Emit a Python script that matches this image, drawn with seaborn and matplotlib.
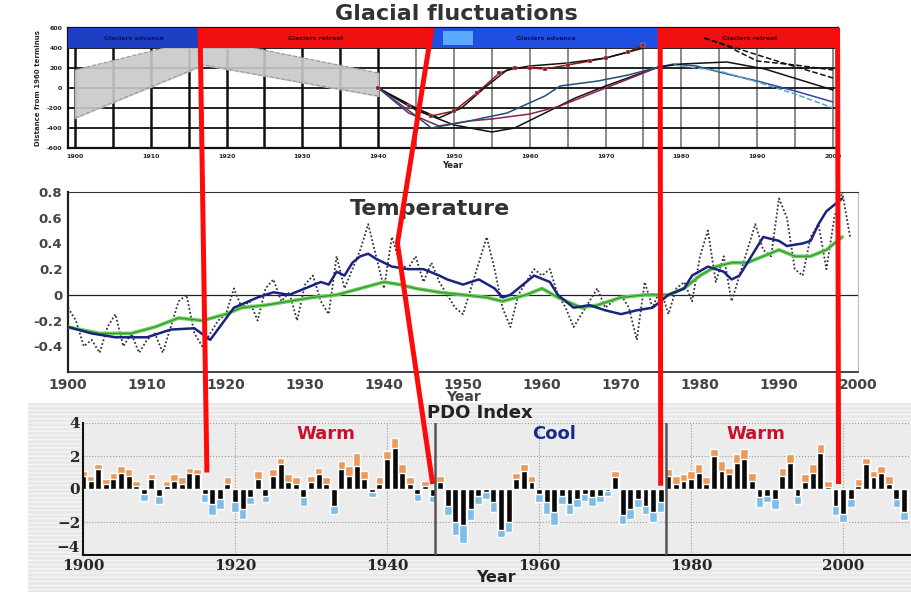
import numpy as np
import pandas as pd
import matplotlib
matplotlib.use("Agg")
import matplotlib.pyplot as plt
import seaborn as sns
from matplotlib.patches import Rectangle
from matplotlib.lines import Line2D

sns.set_style("white")
plt.rcParams['font.family'] = ['DejaVu Sans']

# ---------------- data : glacier panel ----------------
band_years = [1900, 1917, 1940]
band_low = [-300, 230, -80]
band_high = [180, 500, 150]

header_start = [1899.0, 1916.5, 1947.1, 1977.2]
header_end = [1916.5, 1947.1, 1977.2, 2000.7]
header_text = ["Glaciers advance", "Glaciers retreat", "Glaciers advance", "Glaciers retreat"]
header_color = ["#1d3fc4", "#f01010", "#1f4fe0", "#f01010"]

g1_years = [1940, 1944, 1947, 1950, 1953, 1956, 1958, 1960, 1962, 1965, 1968, 1970, 1973, 1975]
g1_vals = [0, -180, -280, -230, -50, 150, 200, 200, 190, 230, 270, 300, 360, 430]
g2_years = [1940, 1945, 1948, 1951, 1954, 1957, 1960, 1965, 1970, 1975]
g2_vals = [0, -200, -300, -200, 0, 180, 220, 250, 300, 400]
g3_years = [1940, 1945, 1950, 1955, 1958, 1962, 1966, 1970, 1974, 1977]
g3_vals = [0, -220, -370, -440, -400, -250, -100, 20, 130, 210]
g4_years = [1940, 1944, 1948, 1952, 1955, 1960, 1964, 1968, 1972, 1977]
g4_vals = [0, -250, -380, -330, -310, -260, -180, -60, 60, 210]
g5_years = [1940, 1945, 1947, 1952, 1957, 1962, 1964, 1969, 1973, 1977]
g5_vals = [0, -280, -400, -330, -250, -80, 20, 70, 130, 210]
g6_years = [1977, 1979, 1982, 1986, 1990, 1995, 2000]
g6_vals = [210, 240, 220, 140, 70, -30, -140]
g7_years = [1977, 1980, 1986, 1991, 2000]
g7_vals = [210, 240, 260, 190, -20]
g8_years = [1983, 1986, 1990, 1995, 2000]
g8_vals = [500, 420, 270, 230, 180]
g9_years = [1983, 1988, 1993, 2000]
g9_vals = [500, 380, 260, 100]
g10_years = [1979, 1985, 1990, 1995, 2000]
g10_vals = [230, 170, 60, -60, -200]

# ---------------- data : temperature panel ----------------
t_years = list(range(1900, 2000))
t_annual = [-0.10, -0.20, -0.40, -0.35, -0.45, -0.25, -0.15, -0.40, -0.30, -0.45,
            -0.35, -0.30, -0.45, -0.25, -0.05, 0.00, -0.30, -0.40, -0.30, -0.20,
            -0.15, 0.05, -0.10, -0.05, -0.20, 0.05, 0.12, -0.05, 0.02, -0.20,
            0.08, 0.15, -0.05, -0.15, 0.30, 0.05, 0.20, 0.35, 0.55, 0.30,
            0.05, 0.45, 0.25, 0.20, 0.30, 0.10, 0.25, 0.10, 0.00, -0.10,
            -0.15, 0.05, 0.25, 0.45, 0.20, -0.10, -0.25, 0.00, 0.10, 0.20,
            0.15, 0.20, 0.00, -0.10, -0.25, -0.15, -0.05, 0.05, -0.10, -0.05,
            0.00, -0.10, -0.35, 0.10, -0.10, 0.05, -0.15, 0.05, 0.10, -0.05,
            0.30, 0.50, 0.10, 0.30, -0.05, 0.15, 0.35, 0.55, 0.35, 0.30,
            0.75, 0.60, 0.20, 0.15, 0.45, 0.55, 0.20, 0.60, 0.80, 0.45]
blue_years = [1900, 1903, 1906, 1910, 1913, 1916, 1918, 1921, 1924, 1926, 1928, 1930,
              1932, 1933, 1934, 1935, 1936, 1937, 1938, 1939, 1941, 1943, 1945, 1947,
              1948, 1950, 1952, 1954, 1955, 1956, 1958, 1959, 1961, 1962, 1964, 1966,
              1968, 1970, 1972, 1974, 1975, 1976, 1978, 1979, 1981, 1983, 1984, 1985,
              1986, 1987, 1988, 1990, 1991, 1993, 1994, 1995, 1996, 1998]
blue_vals = [-0.25, -0.30, -0.33, -0.33, -0.27, -0.26, -0.35, -0.10, -0.02, 0.02, 0.00, 0.05,
             0.10, 0.08, 0.18, 0.15, 0.25, 0.30, 0.32, 0.28, 0.22, 0.20, 0.20, 0.15,
             0.12, 0.08, 0.12, 0.05, -0.02, 0.00, 0.10, 0.15, 0.10, 0.00, -0.10, -0.08,
             -0.12, -0.15, -0.12, -0.10, -0.05, 0.00, 0.05, 0.15, 0.22, 0.18, 0.12, 0.15,
             0.25, 0.35, 0.45, 0.42, 0.38, 0.40, 0.42, 0.55, 0.65, 0.75]
green_years = [1900, 1904, 1908, 1911, 1914, 1917, 1920, 1922, 1925, 1928, 1931, 1934,
               1937, 1940, 1942, 1944, 1947, 1950, 1953, 1955, 1958, 1960, 1962, 1965,
               1967, 1970, 1973, 1976, 1978, 1980, 1982, 1984, 1986, 1988, 1990, 1992,
               1994, 1996, 1998]
green_vals = [-0.25, -0.30, -0.30, -0.25, -0.18, -0.20, -0.15, -0.10, -0.08, -0.05, -0.02, 0.00,
              0.05, 0.10, 0.08, 0.05, 0.02, 0.00, -0.02, -0.05, 0.00, 0.05, -0.02, -0.10,
              -0.08, -0.02, 0.00, 0.00, 0.05, 0.15, 0.22, 0.25, 0.25, 0.30, 0.35, 0.30,
              0.30, 0.35, 0.45]

# ---------------- data : PDO panel ----------------
pdo_years = list(range(1900, 2009))
pdo_black = [0.8, 0.5, 1.2, 0.3, 0.6, 1.0, 0.8, 0.2, -0.3, 0.6,
             -0.4, 0.2, 0.5, 0.3, 1.0, 0.9, -0.3, -0.9, -0.6, 0.3,
             -0.8, -1.2, -0.5, 0.6, -0.4, 0.8, 1.5, 0.4, 0.3, -0.5,
             0.4, 0.9, 0.3, -1.0, 1.2, 0.8, 1.4, 0.6, -0.2, 0.3,
             1.8, 2.5, 1.0, 0.3, -0.3, 0.2, -0.4, 0.4, -1.0, -2.0,
             -2.2, -1.2, -0.4, -0.2, -0.8, -2.5, -2.0, 0.6, 1.1, 0.4,
             -0.3, -0.8, -1.4, -0.4, -0.9, -0.6, -0.3, -0.5, -0.4, -0.1,
             0.7, -1.6, -1.2, -0.6, -1.0, -1.4, -0.8, 0.8, 0.3, 0.5,
             0.6, 1.0, 0.3, 2.0, 1.1, 0.9, 1.6, 1.8, 0.5, -0.5,
             -0.4, -0.6, 0.8, 1.6, -0.4, 0.4, 1.0, 2.2, 0.1, -1.0,
             -1.5, -0.6, 0.2, 1.5, 0.7, 1.0, 0.3, -0.6, -1.4]
pdo_tips = [1.1, 0.8, 1.5, 0.6, 1.0, 1.4, 1.2, 0.5, -0.7, 0.9,
            -0.9, 0.5, 0.9, 0.7, 1.3, 1.2, -0.8, -1.6, -1.2, 0.7,
            -1.4, -1.8, -0.9, 1.1, -0.8, 1.2, 1.9, 0.9, 0.7, -1.0,
            0.8, 1.3, 0.7, -1.5, 1.7, 1.4, 2.2, 1.1, -0.5, 0.7,
            2.3, 3.1, 1.5, 0.7, -0.7, 0.5, -0.8, 0.8, -1.6, -2.8,
            -3.3, -1.9, -0.9, -0.6, -1.4, -2.9, -2.6, 1.0, 1.5, 0.8,
            -0.8, -1.5, -2.2, -0.9, -1.5, -1.1, -0.7, -1.0, -0.8, -0.4,
            1.1, -2.1, -1.8, -1.1, -1.5, -2.0, -1.4, 1.2, 0.8, 0.9,
            1.1, 1.5, 0.7, 2.4, 1.7, 1.3, 2.1, 2.4, 1.0, -1.1,
            -0.8, -1.2, 1.3, 2.1, -0.9, 0.9, 1.5, 2.7, 0.5, -1.6,
            -2.0, -1.1, 0.6, 1.9, 1.1, 1.4, 0.8, -1.1, -1.9]
pdo_phase_lines = [1946.3, 1976.7]
phase_labels = ["Warm", "Cool", "Warm"]
phase_x = [1932, 1962, 1988.5]
phase_colors = ["#c8102e", "#1a2a8a", "#c8102e"]

# red connectors: (panel, year, value)
red_lines = [
    [("top", 1916.5, 600), ("pdo", 1916.3, 1.0)],
    [("top", 1947.1, 600), ("mid", 1941.7, 0.40), ("pdo", 1946.0, 0.3)],
    [("top", 1977.2, 600), ("pdo", 1976.0, 0.2)],
    [("top", 2000.6, 600), ("pdo", 1999.4, 0.3)],
]

W, H = 912, 592
fig = plt.figure(figsize=(W / 100, H / 100), dpi=100)


def px_axes(x0, y0, x1, y1, **kw):
    return fig.add_axes([x0 / W, 1 - y1 / H, (x1 - x0) / W, (y1 - y0) / H], **kw)


# striped gray background of the PDO figure
bg = Rectangle((28 / W, 0), (W - 28) / W, 1 - 403 / H, transform=fig.transFigure,
               facecolor="#e8e8e8", edgecolor="#f6f6f6", hatch="----", lw=0, zorder=-5)
fig.patches.append(bg)

# ================= glacier panel =================
ax1 = px_axes(68, 28, 838, 148)
ax1.set_xlim(1899.08, 2000.66)
ax1.set_ylim(-600, 600)
for yr in range(1900, 2001, 5):
    ax1.axvline(yr, color="#111" if yr <= 1940 else "#777", lw=1.8 if yr <= 1940 else 1.2, zorder=1)
for v in [-400, -200, 0, 200, 400]:
    ax1.axhline(v, color="#111", lw=1.3, zorder=1)
ax1.fill_between(band_years, band_low, band_high, color="#c9c9c9", alpha=0.9, zorder=2)
sns.lineplot(x=band_years, y=band_low, ax=ax1, color="#999", lw=0.8, ls="--", zorder=2)
sns.lineplot(x=band_years, y=band_high, ax=ax1, color="#999", lw=0.8, ls="--", zorder=2)
for s, e, txt, c in zip(header_start, header_end, header_text, header_color):
    ax1.add_patch(Rectangle((s, 400), e - s, 200, facecolor=c, edgecolor="none", zorder=3))
    ax1.text((s + e) / 2, 500, txt, ha="center", va="center", fontsize=4.5, fontweight="bold",
             color="#3a0000" if c == "#f01010" else "#08164f", zorder=4)
ax1.add_patch(Rectangle((1948.5, 430), 4, 140, facecolor="#5aa9ff", edgecolor="none", zorder=3))
glac = [(g1_years, g1_vals, "#8b1a1a", "-"), (g2_years, g2_vals, "#111", "-"),
        (g3_years, g3_vals, "#111", "-"), (g4_years, g4_vals, "#8b2252", "-"),
        (g5_years, g5_vals, "#1f4e79", "-"), (g6_years, g6_vals, "#3344aa", "-"),
        (g7_years, g7_vals, "#111", "-"), (g8_years, g8_vals, "#111", "--"),
        (g9_years, g9_vals, "#111", "--"), (g10_years, g10_vals, "#55aaaa", "--")]
for xs, ys, c, ls in glac:
    sns.lineplot(x=xs, y=ys, ax=ax1, color=c, lw=1.1, ls=ls, zorder=5)
sns.scatterplot(x=g1_years, y=g1_vals, ax=ax1, marker="s", s=8, color="#8b1a1a", zorder=6)
ax1.set_xticks(range(1900, 2001, 10))
ax1.set_xticklabels([str(y) for y in range(1900, 2001, 10)], fontsize=4.5, fontweight="bold")
ax1.set_yticks(range(-600, 601, 200))
ax1.set_yticklabels([str(v) for v in range(-600, 601, 200)], fontsize=4.5, fontweight="bold")
ax1.tick_params(length=2, pad=2)
ax1.set_ylabel("Distance from 1960 terminus", fontsize=5, fontweight="bold", labelpad=4)
ax1.set_xlabel("Year", fontsize=6, fontweight="bold", labelpad=2)
for sp in ax1.spines.values():
    sp.set_color("#111")
    sp.set_linewidth(1.6)
fig.text(456 / W, 1 - 14 / H, "Glacial fluctuations", ha="center", va="center",
         fontsize=16, fontweight="bold", color="#333")

# ================= temperature panel =================
ax2 = px_axes(68, 192, 858, 372)
ax2.set_xlim(1900, 2000)
ax2.set_ylim(-0.6, 0.8)
ax2.axhline(0, color="#222", lw=0.9, zorder=1)
sns.lineplot(x=t_years, y=t_annual, ax=ax2, color="#333", lw=1.3, ls=(0, (1, 1.2)), zorder=2)
sns.lineplot(x=green_years, y=green_vals, ax=ax2, color="#66cc55", lw=2.6, zorder=3)
sns.lineplot(x=green_years, y=green_vals, ax=ax2, color="#2f8f2f", lw=0.7, zorder=3)
sns.lineplot(x=blue_years, y=blue_vals, ax=ax2, color="#1a2380", lw=1.8, zorder=4)
ax2.set_xticks(range(1900, 2001, 10))
ax2.set_xticks(range(1900, 2001, 2), minor=True)
ax2.set_xticklabels([str(y) for y in range(1900, 2001, 10)], fontsize=10, fontweight="bold", color="#444")
ax2.set_yticks([-0.4, -0.2, 0, 0.2, 0.4, 0.6, 0.8])
ax2.set_yticks(np.arange(-0.6, 0.81, 0.1), minor=True)
ax2.set_yticklabels(["-0.4", "-0.2", "0", "0.2", "0.4", "0.6", "0.8"], fontsize=9.5,
                    fontweight="bold", color="#444")
ax2.tick_params(axis="both", which="both", direction="in", length=6, width=1, pad=4)
ax2.tick_params(axis="x", which="minor", length=3)
ax2.tick_params(axis="y", which="minor", length=7)
ax2.set_xlabel("Year", fontsize=10, fontweight="bold", color="#444", labelpad=-1)
ax2.spines["left"].set_color("#222")
ax2.spines["bottom"].set_color("#222")
ax2.spines["left"].set_linewidth(1.6)
ax2.spines["bottom"].set_linewidth(1.2)
ax2.spines["top"].set_color("#333")
ax2.spines["right"].set_color("#bbb")
ax2.text(1945.8, 0.67, "Temperature", ha="center", va="center", fontsize=16,
         fontweight="bold", color="#333", zorder=6)

# ================= PDO panel =================
ax3 = px_axes(83, 423, 910, 555)
ax3.set_facecolor("#ececec")
ax3.set_xlim(1900, 2008.8)
ax3.set_ylim(-4, 4)
for yr in range(1920, 2001, 20):
    ax3.axvline(yr, color="#999", lw=0.8, ls=":", zorder=0)
for v in [-2, 2, 4]:
    ax3.axhline(v, color="#999", lw=0.8, ls=":", zorder=0)
tips = np.array(pdo_tips)
blk = np.array(pdo_black)
ax3.bar(pdo_years, tips, width=1.0, color=np.where(tips >= 0, "#ec9a5c", "#7dbde8"), zorder=1)
ax3.bar(pdo_years, blk, width=0.78, color="#0a0a0a", zorder=2)
for xl in pdo_phase_lines:
    ax3.axvline(xl, color="#555", lw=1.8, zorder=3)
for lab, xx, c in zip(phase_labels, phase_x, phase_colors):
    ax3.text(xx, 3.35, lab, ha="center", va="center", fontsize=13, fontweight="bold", color=c)
ax3.set_xticks(range(1900, 2001, 20))
ax3.set_xticklabels([str(y) for y in range(1900, 2001, 20)], fontsize=11, fontweight="bold",
                    family="DejaVu Serif")
ax3.set_yticks([-4, -2, 0, 2, 4])
ax3.set_yticklabels(["\u22124", "\u22122", "0", "2", "4"], fontsize=11, fontweight="bold",
                    family="DejaVu Serif")
ax3.get_yticklabels()[0].set_verticalalignment("bottom")
ax3.tick_params(direction="in", length=4, pad=2)
ax3.tick_params(axis="x", pad=3)
for sp in ["top", "right"]:
    ax3.spines[sp].set_visible(False)
ax3.spines["left"].set_color("#111")
ax3.spines["bottom"].set_color("#111")
ax3.spines["left"].set_linewidth(1.5)
ax3.spines["bottom"].set_linewidth(1.5)
ax3.set_xlabel("Year", fontsize=11.5, fontweight="bold", color="#222", labelpad=-2)
fig.text(480 / W, 1 - 413 / H, "PDO Index", ha="center", va="center", fontsize=13,
         fontweight="bold", color="#222")

# ================= red connectors =================
panels = {"top": ax1, "mid": ax2, "pdo": ax3}
inv = fig.transFigure.inverted()
for seg in red_lines:
    pts = np.array([inv.transform(panels[p].transData.transform((x, y))) for p, x, y in seg])
    fig.lines.append(Line2D(pts[:, 0], pts[:, 1], transform=fig.transFigure, color="#ff0a0a",
                            lw=3.6, solid_capstyle="butt", zorder=20))

fig.savefig("out.png", dpi=100)
